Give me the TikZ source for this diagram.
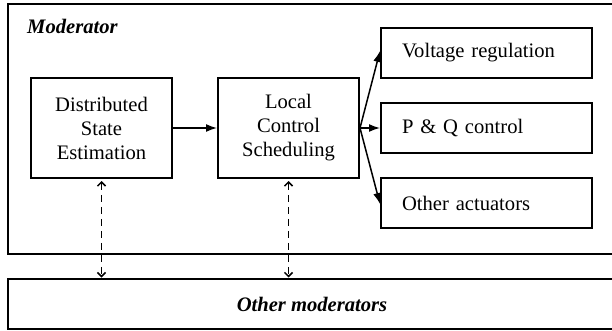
\documentclass[tikz,border=0pt]{standalone}
\usepackage{fontspec}
\setmainfont{Liberation Serif}
\usetikzlibrary{arrows.meta}
\begin{document}
\begin{tikzpicture}[x=1pt,y=-1pt,
  txt/.style={font=\fontsize{20.6}{24}\selectfont},
  frame/.style={draw, line width=2pt, inner sep=0pt, anchor=north west},
  box/.style={draw, line width=2pt, minimum width=141pt, minimum height=100pt, align=center, inner sep=0pt, txt},
  actbox/.style={draw, line width=2pt, text width=169pt, inner xsep=21pt, inner ysep=0pt, minimum height=50pt, align=left, txt},
  flow/.style={line width=1.5pt, -{Latex[length=11pt,width=8pt]}},
  link/.style={line width=1.5pt, dash pattern=on 7pt off 5pt, {Straight Barb[length=4pt,width=8pt]}-{Straight Barb[length=4pt,width=8pt]}}]
\useasboundingbox (0,0) rectangle (612,331);
\clip (0,0) rectangle (612,331);
\node[frame, minimum width=613pt, minimum height=250pt] (mod) at (7,3) {};
\node[txt, anchor=base west, inner sep=0pt, font=\fontsize{20.6}{24}\selectfont\bfseries\itshape] (modlabel) at (27,34) {Moderator};
\node[box] (dse) at (101.5,128) {Distributed\\State\\Estimation};
\node[box] (lcs) at (288.5,128) {Local\\Control\\Scheduling};
\node[actbox] (vr) at (486.5,53) {Voltage regulation};
\node[actbox] (pq) at (486.5,128) {P \& Q control};
\node[actbox] (oa) at (486.5,203) {Other actuators};
\node[frame, minimum width=608pt, minimum height=50pt, txt, font=\fontsize{20.6}{24}\selectfont\bfseries\itshape] (om) at (7,278) {Other moderators};
\draw[flow] (dse) -- (lcs);
\draw[flow] (lcs.east) -- ([yshift=2pt]vr.west);
\draw[flow] (lcs.east) -- (pq.west);
\draw[flow] (lcs.east) -- ([yshift=-1pt]oa.west);
\draw[link, shorten <=2pt, shorten >=0.5pt] (dse.south) -- (dse.south |- om.north);
\draw[link, shorten <=2pt, shorten >=0.5pt] (lcs.south) -- (lcs.south |- om.north);
\end{tikzpicture}
\end{document}
